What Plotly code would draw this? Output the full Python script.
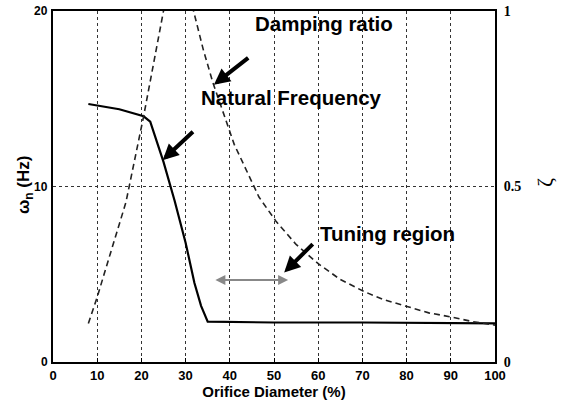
import plotly.graph_objects as go

# Natural frequency (left axis, Hz)
nf_x = [8, 15, 20.5, 22, 25, 27.5, 30, 32, 33.5, 35, 50, 70, 100]
nf_y = [14.7, 14.4, 14.0, 13.7, 11.4, 9.2, 6.8, 4.5, 3.2, 2.3, 2.25, 2.25, 2.2]

# Damping ratio (right axis)
dr_x = [8, 10, 13, 16.5, 20.5, 24.8, 28, 31.8, 34, 36.2, 41, 46.6, 50.5, 55, 60, 65, 70.5, 75, 80.4, 85, 90.2, 95, 100]
dr_y = [0.11, 0.185, 0.31, 0.455, 0.70, 1.0, 1.2, 1.0, 0.89, 0.795, 0.62, 0.47, 0.40, 0.335, 0.28, 0.235, 0.20, 0.177, 0.157, 0.14, 0.128, 0.115, 0.105]

x_ticks = [0, 10, 20, 30, 40, 50, 60, 70, 80, 90, 100]
y_ticks = [0, 10, 20]
y2_ticks = [0, 0.5, 1]
y2_labels = ["0", "0.5", "1"]

FONT = "Liberation Sans, Arial, sans-serif"

fig = go.Figure()
fig.add_trace(go.Scatter(x=nf_x, y=nf_y, mode="lines",
                         line=dict(color="black", width=2.2), showlegend=False))
fig.add_trace(go.Scatter(x=dr_x, y=dr_y, mode="lines", yaxis="y2",
                         line=dict(color="#222", width=1.6, dash="6px,4px"),
                         showlegend=False))

fig.update_layout(
    width=568, height=404,
    margin=dict(l=53, r=73, t=11, b=42, autoexpand=False),
    paper_bgcolor="white", plot_bgcolor="white",
    font=dict(family=FONT, color="black"),
    xaxis=dict(range=[0, 100], tickvals=x_ticks, showgrid=True, automargin=False,
               gridcolor="#333", griddash="dot", gridwidth=1,
               showline=True, linecolor="black", linewidth=2, mirror=True,
               ticks="inside", ticklen=4, tickcolor="black",
               tickfont=dict(size=13, family=FONT, weight="bold"),
               title=dict(text="Orifice Diameter (%)", font=dict(size=15, family=FONT, weight="bold"), standoff=2),
               zeroline=False),
    yaxis=dict(range=[0, 20], tickvals=[10], showgrid=True, automargin=False,
               gridcolor="#333", griddash="dot", gridwidth=1,
               showline=True, linecolor="black", linewidth=2,
               ticks="", showticklabels=False,
               zeroline=False),
    yaxis2=dict(range=[0, 1], overlaying="y", side="right", tickvals=y2_ticks, ticktext=y2_labels,
                showgrid=False, showline=True, linecolor="black", linewidth=2, automargin=False,
                ticks="outside", ticklen=4, tickcolor="rgba(0,0,0,0)",
                tickfont=dict(size=14, family="Liberation Serif, Times New Roman, serif", weight="bold"),
                zeroline=False),
)

# left tick labels as annotations (bold)
for v in y_ticks:
    fig.add_annotation(x=0, y=v, xref="paper", yref="y", text="<b>%d</b>" % v, showarrow=False,
                       xanchor="right", xshift=-3, font=dict(size=12, family=FONT))

# axis titles
fig.add_annotation(x=-28 / 442, y=(362 - 185) / 351, xref="paper", yref="paper", text="<b>ω<sub>n</sub> (Hz)</b>",
                   showarrow=False, textangle=-90, font=dict(size=17, family=FONT), xanchor="center", yanchor="middle")
fig.add_annotation(x=(544 - 53) / 442, y=(362 - 183) / 351, xref="paper", yref="paper", text="ζ",
                   showarrow=False, textangle=-90, font=dict(size=22, family="Liberation Serif, serif"),
                   xanchor="center", yanchor="middle")

lbl_font = dict(size=20.5, family=FONT, color="black")
fig.add_annotation(x=45.3, y=19.3, xref="x", yref="y", text="<b>Damping ratio</b>", showarrow=False,
                   xanchor="left", font=lbl_font)
fig.add_annotation(x=33.0, y=15.1, xref="x", yref="y", text="<b>Natural Frequency</b>", showarrow=False,
                   xanchor="left", font=lbl_font)
fig.add_annotation(x=60.0, y=7.3, xref="x", yref="y", text="<b>Tuning region</b>", showarrow=False,
                   xanchor="left", font=lbl_font)

arrows = [((44.5, 17.4), (36.4, 15.8)), ((32.0, 13.2), (24.8, 11.5)), ((59.1, 6.8), (52.3, 5.1))]
for (tx, ty), (hx, hy) in arrows:
    fig.add_annotation(x=hx, y=hy, ax=tx, ay=ty, xref="x", yref="y", axref="x", ayref="y",
                       text="", showarrow=True, arrowhead=2, arrowsize=0.8, arrowwidth=4, arrowcolor="black")

fig.add_annotation(x=53.2, y=4.67, ax=36.4, ay=4.67, xref="x", yref="y", axref="x", ayref="y",
                   text="", showarrow=True, arrowhead=2, startarrowhead=2, arrowside="end+start",
                   arrowsize=1, startarrowsize=1, arrowwidth=2, arrowcolor="#888")

fig.write_html("out.html")
